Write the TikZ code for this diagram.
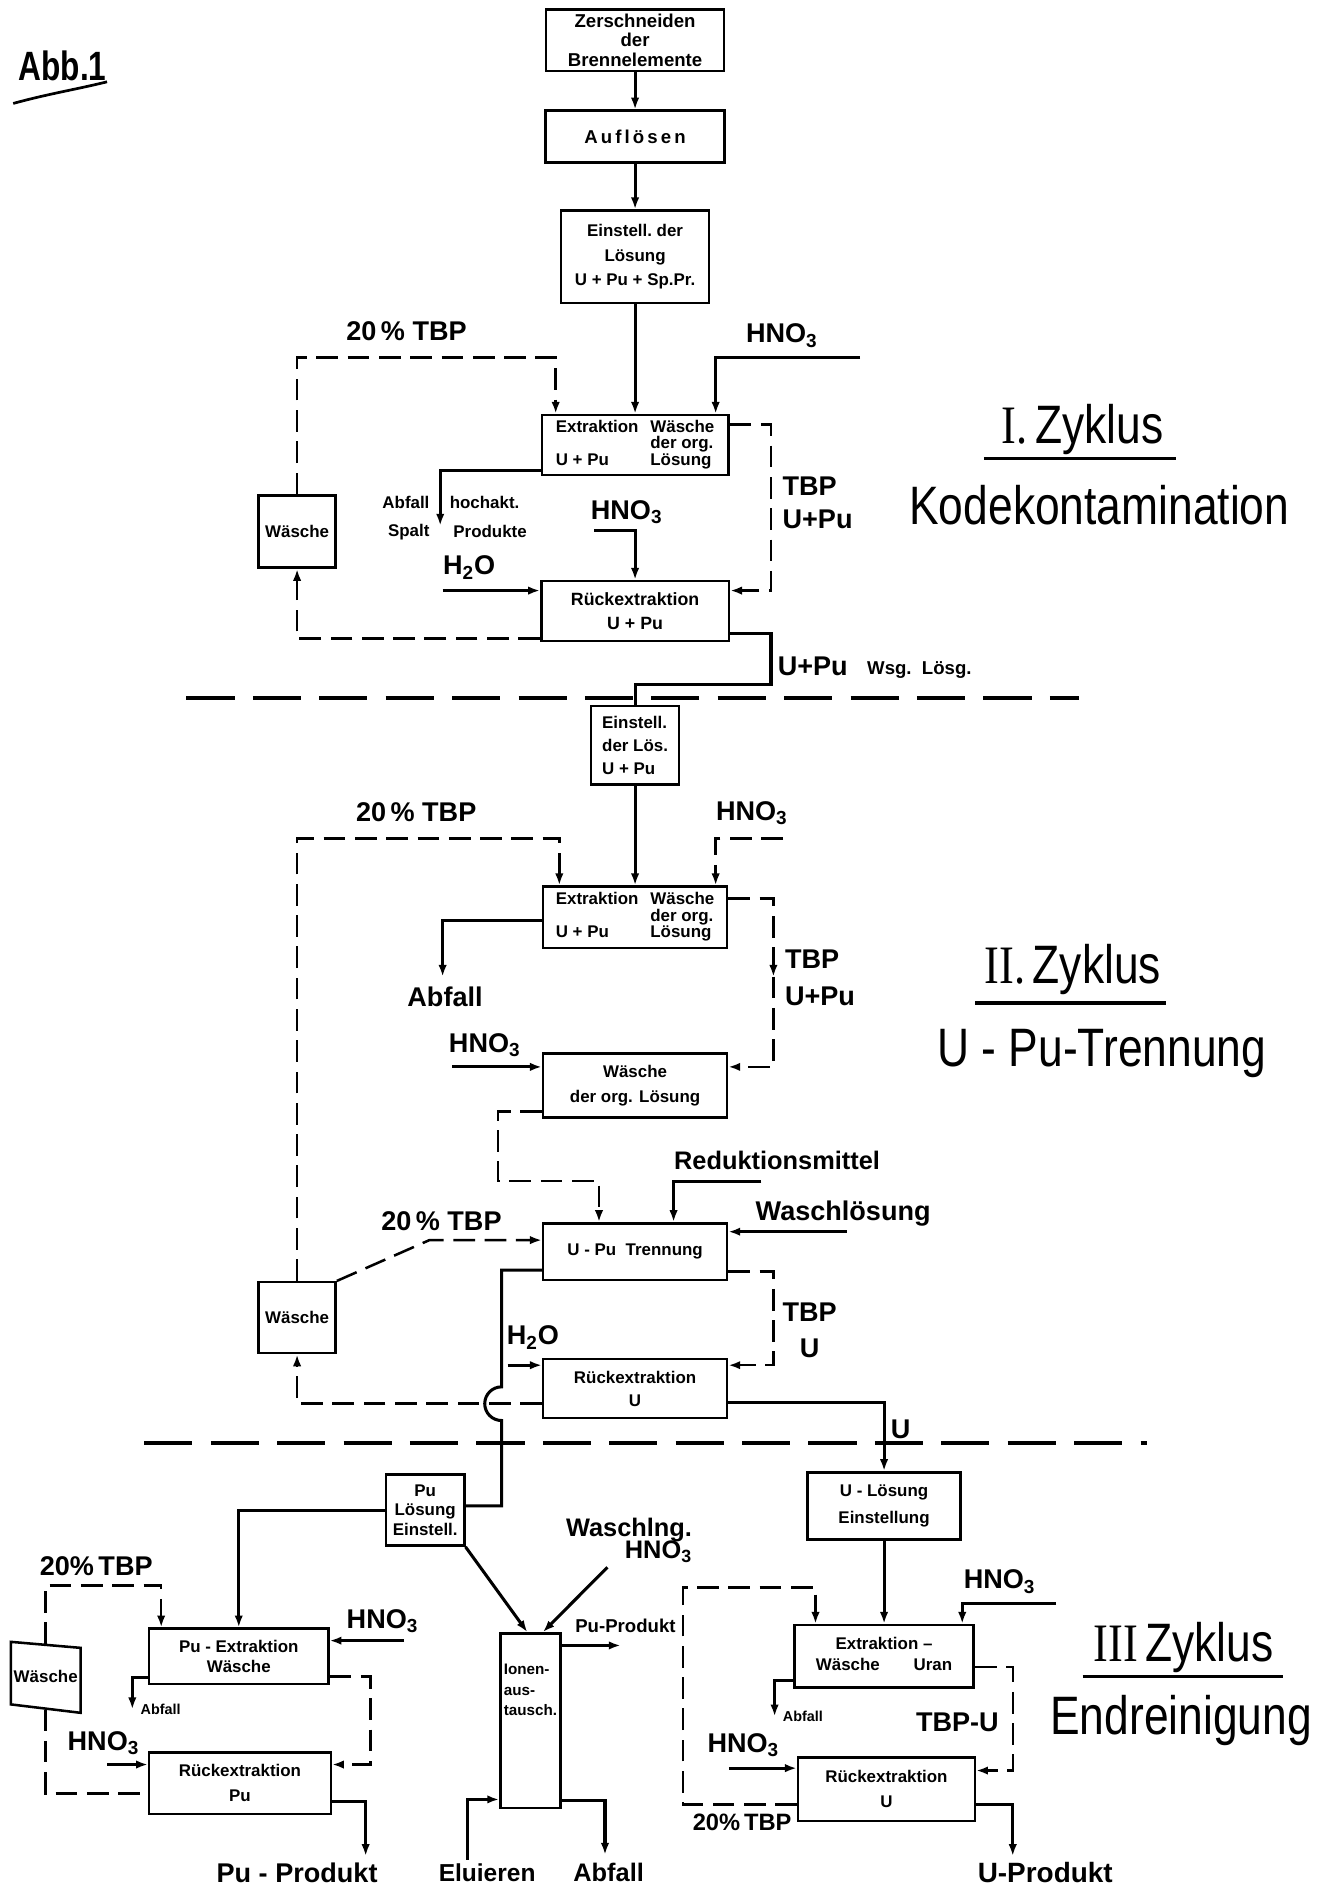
\documentclass[tikz,border=0pt]{standalone}
\usepackage{fontspec}
\setmainfont{Liberation Sans}
\newfontfamily\romfont{Liberation Serif}
\usetikzlibrary{arrows.meta}
\newcommand{\px}{0.025cm}
\newcommand{\boxfont}{\fontsize{10}{11.5}\selectfont\bfseries}
\newcommand{\feedfont}{\fontsize{16}{17}\selectfont\bfseries}
\newcommand{\smallfont}{\fontsize{10}{11}\selectfont\bfseries}
\newcommand{\tinyfont}{\fontsize{8.5}{9}\selectfont\bfseries}
\newcommand{\titlefont}{\fontsize{32}{34}\selectfont}
\newcommand{\HNO}{HNO\textsubscript{3}}
\newcommand{\HHO}{H\textsubscript{2}O}
\newcommand{\narrow}[1]{\scalebox{0.82}[1]{#1}}
\newcommand{\extwash}{%
  \begin{tabular}{@{}l@{\hspace{7pt}}l@{}}
    Extraktion & Wäsche\\[-2pt]
               & der org.\\[-2pt]
    U + Pu     & Lösung
  \end{tabular}}

\tikzset{
  box/.style={draw, line width=1.5pt, inner sep=1pt, align=center, font=\boxfont},
  feed/.style={font=\feedfont, inner sep=1pt},
  flow/.style={line width=1.8pt, -{Latex[length=7pt,width=5pt]}},
  flowline/.style={line width=1.8pt},
  recyc/.style={line width=1.5pt, dash pattern=on 0.45cm off 0.2cm, -{Latex[length=7pt,width=5pt]}},
  recycline/.style={line width=1.5pt, dash pattern=on 0.45cm off 0.2cm},
  divider/.style={line width=2.4pt, dash pattern=on 1cm off 0.38cm},
  title/.style={font=\titlefont, inner sep=0pt},
}

\begin{document}
\begin{tikzpicture}[x=0.025cm, y=-0.025cm]
  \useasboundingbox (0,0) rectangle (1110,1568);

  \node[font=\fontsize{22}{24}\selectfont\bfseries] (abb) at (52,55) {\scalebox{0.85}[1.1]{Abb.1}};
  \draw[line width=1.6pt] (11,86) .. controls (40,78) and (65,74) .. (89,68);

  % boxes, I. Zyklus
  \node[box, font=\fontsize{11}{11.5}\selectfont\bfseries, minimum width=148*\px, minimum height=51*\px] (zer) at (528,33.5) {Zerschneiden\\der\\Brennelemente};
  \node[box, font=\fontsize{11}{12}\selectfont\bfseries, minimum width=149*\px, minimum height=43*\px] (auf) at (528,113.5) {A\,u\,f\,l\,ö\,s\,e\,n};
  \node[box, minimum width=123*\px, minimum height=77*\px] (ein1) at (528,213.5) {Einstell.~der\\[3pt]Lösung\\[3pt]U + Pu + Sp.Pr.};
  \node[box, minimum width=155*\px, minimum height=50*\px] (ext1) at (528,370) {\extwash};
  \node[box, font=\fontsize{10.5}{12}\selectfont\bfseries, minimum width=156*\px, minimum height=50*\px] (rueck1) at (528,508) {Rückextraktion\\[2pt]U + Pu};
  \node[box, minimum width=64*\px, minimum height=60*\px] (wae1) at (247,442) {Wäsche};

  % boxes, II. Zyklus
  \node[box, align=left, minimum width=73*\px, minimum height=65*\px] (ein2) at (528,619.5) {Einstell.\\[2pt]der Lös.\\[2pt]U + Pu};
  \node[box, minimum width=153*\px, minimum height=51*\px] (ext2) at (528,762.5) {\extwash};
  \node[box, minimum width=153*\px, minimum height=53*\px] (wae2org) at (528,902.5) {Wäsche\\[3pt]der org. Lösung};
  \node[box, minimum width=153*\px, minimum height=47*\px] (trenn) at (528,1040.5) {U - Pu~~Trennung};
  \node[box, minimum width=153*\px, minimum height=49*\px] (rueck2) at (528,1154.5) {Rückextraktion\\[2pt]U};
  \node[box, minimum width=64*\px, minimum height=59*\px] (wae2) at (247,1095.5) {Wäsche};

  % boxes, III Zyklus
  \node[box, minimum width=65*\px, minimum height=59*\px] (pulsg) at (353.5,1255.5) {Pu\\Lösung\\Einstell.};
  \node[box, minimum width=127*\px, minimum height=56*\px] (ulsg) at (735,1252) {U - Lösung\\[4pt]Einstellung};
  \node[box, minimum width=149*\px, minimum height=46*\px] (puext) at (198.5,1377) {Pu - Extraktion\\Wäsche};
  \node[box, minimum width=151*\px, minimum height=51*\px] (puback) at (199.5,1482.5) {Rückextraktion\\[3pt]Pu};
  \node[box, minimum width=50*\px, minimum height=145*\px] (ionen) at (441,1430.5) {};
  \node[font=\fontsize{9}{10}\selectfont\bfseries, align=left, inner sep=0pt] (ionenlbl) at (441,1405) {Ionen-\\[2pt]aus-\\[2pt]tausch.};
  \node[box, minimum width=149*\px, minimum height=52*\px] (uext) at (735,1377) {\begin{tabular}{@{}l@{\hspace{20pt}}r@{}}\multicolumn{2}{c}{Extraktion --}\\[1pt] Wäsche & Uran\end{tabular}};
  \node[box, minimum width=147*\px, minimum height=53*\px] (uback) at (737,1487.5) {Rückextraktion\\[3pt]U};
  \node[font=\boxfont, minimum width=58*\px, minimum height=54*\px, inner sep=0pt] (wae3) at (38,1394) {Wäsche};
  \draw[line width=1.5pt] (9,1365) -- (67,1370) -- (67,1424) -- (9,1417) -- cycle;

  % I. Zyklus
  \draw[flow] (zer) -- (auf);
  \draw[flow] (auf) -- (ein1);
  \draw[flow] (ein1) -- (ext1);

  \node[feed] (tbp1lbl) at (338,275) {20\,\% TBP};
  \coordinate (tbp1) at (462,297);
  \draw[recyc] (wae1.north) |- (tbp1) -- (tbp1 |- ext1.north);

  \node[feed] (hno1lbl) at (650,279) {\HNO};
  \coordinate (hno1) at (715,297);
  \coordinate (hno1c) at (595,297);
  \draw[flow] (hno1) -- (hno1c) -- (hno1c |- ext1.north);

  \coordinate (tbpu1a) at (641,353);
  \coordinate (tbpu1b) at (641,491);
  \draw[recyc] (tbpu1a -| ext1.east) -- (tbpu1a) -- (tbpu1b) -- (tbpu1b -| rueck1.east);
  \node[feed, anchor=west, align=left] (tbpu1lbl) at (649,418) {TBP\\[3pt]U+Pu};

  \coordinate (abf1) at (366,391);
  \coordinate (abf1e) at (366,437);
  \draw[flow] (abf1 -| ext1.west) -| (abf1e);
  \node[font=\smallfont, anchor=east] (abf1lbl) at (362,418) {Abfall};
  \node[font=\smallfont, anchor=west] (hochlbl) at (369,418) {hochakt.};
  \node[font=\smallfont, anchor=east] (spaltlbl) at (362,442) {Spalt};
  \node[font=\smallfont, anchor=west] (prodlbl) at (372,442) {Produkte};

  \node[feed] (hno2lbl) at (521,426) {\HNO};
  \coordinate (hno2) at (494,441);
  \draw[flow] (hno2) -| (rueck1.north);

  \node[feed] (h2o1lbl) at (390,472) {\HHO};
  \coordinate (h2o1) at (368,491);
  \draw[flow] (h2o1) -- (h2o1 -| rueck1.west);

  \coordinate (ret1) at (247,531);
  \draw[recyc] (ret1 -| rueck1.west) -- (ret1) -- (wae1.south);

  \coordinate (out1a) at (641,527);
  \coordinate (out1b) at (641,569);
  \draw[flowline] (out1a -| rueck1.east) -- (out1a) -- (out1b) -| (ein2.north);
  \node[feed, anchor=west] (upu1lbl) at (645,554) {U+Pu};
  \node[font=\fontsize{11}{12}\selectfont\bfseries, anchor=west] (wsglbl) at (716,557) {Wsg.~~Lösg.};

  \node[title] (zyk1) at (900,357) {\narrow{{\romfont I.}\,Zyklus}};
  \draw[line width=2pt] (818,381) -- (978,381);
  \node[title] (kodek) at (914,420) {\narrow{Kodekontamination}};

  \coordinate (div1a) at (155,580);
  \coordinate (div1b) at (897,580);
  \draw[divider] (div1a) -- (div1b);

  % II. Zyklus
  \draw[flow] (ein2) -- (ext2);

  \node[feed] (tbp2lbl) at (346,675) {20\,\% TBP};
  \coordinate (tbp2) at (465,697);
  \draw[recyc] (wae2.north) |- (tbp2) -- (tbp2 |- ext2.north);

  \node[feed] (hno3lbl) at (625,676) {\HNO};
  \coordinate (hno3) at (651,697);
  \coordinate (hno3c) at (595,697);
  \draw[recyc] (hno3) -- (hno3c) -- (hno3c |- ext2.north);

  \coordinate (abf2) at (368,765);
  \coordinate (abf2e) at (368,812);
  \draw[flow] (abf2 -| ext2.west) -| (abf2e);
  \node[feed] (abf2lbl) at (370,829) {Abfall};

  \coordinate (tbpu2a) at (643,747);
  \coordinate (tbpu2m) at (643,812);
  \coordinate (tbpu2b) at (643,887);
  \draw[recyc] (tbpu2a -| ext2.east) -- (tbpu2a) -- (tbpu2m);
  \draw[recyc] (tbpu2m) -- (tbpu2b) -- (tbpu2b -| wae2org.east);
  \node[feed, anchor=west, align=left] (tbpu2lbl) at (651,813) {TBP\\[5pt]U+Pu};

  \node[feed] (hno4lbl) at (403,869) {\HNO};
  \coordinate (hno4) at (376,887);
  \draw[flow] (hno4) -- (hno4 -| wae2org.west);

  \coordinate (d1) at (414,924);
  \coordinate (d2) at (414,982);
  \coordinate (d3) at (498,982);
  \draw[recyc] (d1 -| wae2org.west) -- (d1) -- (d2) -- (d3) -- (d3 |- trenn.north);

  \node[feed, font=\fontsize{15}{16}\selectfont\bfseries] (redlbl) at (646,965) {Reduktionsmittel};
  \coordinate (red) at (633,982);
  \coordinate (redc) at (560,982);
  \draw[flow] (red) -- (redc) -- (redc |- trenn.north);

  \node[feed] (wllbl) at (701,1009) {Waschlösung};
  \coordinate (wl) at (704,1024);
  \draw[flow] (wl) -- (wl -| trenn.east);

  \node[feed] (tbp3lbl) at (367,1015) {20\,\% TBP};
  \coordinate (tbp3) at (357,1031);
  \draw[recyc] (wae2.north east) -- (tbp3) -- (tbp3 -| trenn.west);

  \coordinate (tbpu3a) at (643,1057);
  \coordinate (tbpu3b) at (643,1135);
  \draw[recyc] (tbpu3a -| trenn.east) -- (tbpu3a) -- (tbpu3b) -- (tbpu3b -| rueck2.east);
  \node[feed, anchor=west, align=center] (tbpu3lbl) at (649,1106) {TBP\\[4pt]U};

  \node[feed] (h2o2lbl) at (443,1112) {\HHO};
  \coordinate (h2o2) at (422,1135);
  \draw[flow] (h2o2) -- (h2o2 -| rueck2.west);

  \coordinate (ret2) at (247,1167);
  \draw[recyc] (ret2 -| rueck2.west) -- (ret2) -- (wae2.south);

  \coordinate (pu1) at (417,1056);
  \coordinate (pu2) at (417,1153);
  \coordinate (pu3) at (417,1252);
  \draw[flowline] (pu1 -| trenn.west) -- (pu1) -- (pu2) arc[start angle=270, end angle=90, radius=14] -- (pu3) -- (pu3 -| pulsg.east);

  \coordinate (u1) at (735,1166);
  \draw[flow] (u1 -| rueck2.east) -- (u1) -- (u1 |- ulsg.north);
  \node[feed, anchor=west] (u1lbl) at (739,1188) {U};

  \node[title] (zyk2) at (892,806) {\narrow{{\romfont II.}\,Zyklus}};
  \draw[line width=2pt] (811,834) -- (969,834);
  \node[title] (upu) at (916,876) {\narrow{U - Pu-Trennung}};

  \coordinate (div2a) at (120,1200);
  \coordinate (div2b) at (954,1200);
  \draw[divider] (div2a) -- (div2b);

  % III Zyklus
  \draw[flow] (pulsg.west) -| (puext.north);
  \draw[flow] (pulsg.south east) -- (ionen.92);

  \node[feed, font=\fontsize{15}{16}\selectfont\bfseries, align=right, anchor=east] (wlnglbl) at (577,1281) {Waschlng.\\[-3pt]\HNO};
  \coordinate (wlng) at (505,1303);
  \draw[flow] (wlng) -- (ionen.82);

  \node[feed] (tbp4lbl) at (80,1302) {20\%\,TBP};
  \coordinate (tbp4) at (134,1318);
  \draw[recyc] (wae3.north) |- (tbp4) -- (tbp4 |- puext.north);
  \coordinate (pw1) at (38,1491);
  \draw[recycline] (wae3.south) -- (pw1) -- (pw1 -| puback.west);

  \node[feed] (hno5lbl) at (318,1348) {\HNO};
  \coordinate (hno5) at (336,1364);
  \draw[flow] (hno5) -- (hno5 -| puext.east);

  \coordinate (abf3) at (110,1395);
  \coordinate (abf3e) at (110,1421);
  \draw[flow] (abf3 -| puext.west) -| (abf3e);
  \node[font=\tinyfont, anchor=west] (abf3lbl) at (112,1421) {Abfall};

  \coordinate (pd1) at (308,1394);
  \coordinate (pd2) at (308,1467);
  \draw[recyc] (pd1 -| puext.east) -- (pd1) -- (pd2) -- (pd2 -| puback.east);

  \node[feed] (hno6lbl) at (86,1449) {\HNO};
  \coordinate (hno6) at (89,1467);
  \draw[flow] (hno6) -- (hno6 -| puback.west);

  \coordinate (po) at (304,1498);
  \coordinate (poe) at (304,1543);
  \draw[flow] (po -| puback.east) -| (poe);
  \node[feed, font=\fontsize{16}{17}\selectfont\bfseries] (pulbl) at (247,1557) {Pu - Produkt};

  \coordinate (ipp) at (516,1368);
  \draw[flow] (ipp -| ionen.east) -- (ipp);
  \node[font=\fontsize{11}{12}\selectfont\bfseries] (ipplbl) at (520,1352) {Pu-Produkt};

  \coordinate (elu) at (389,1546);
  \coordinate (eluc) at (389,1496);
  \draw[flow] (elu) -- (eluc) -- (eluc -| ionen.west);
  \node[feed, font=\fontsize{14.5}{16}\selectfont\bfseries] (elulbl) at (405,1557) {Eluieren};

  \coordinate (iab) at (503,1497);
  \coordinate (iabe) at (503,1542);
  \draw[flow] (iab -| ionen.east) -| (iabe);
  \node[feed, font=\fontsize{15}{16}\selectfont\bfseries] (iablbl) at (506,1557) {Abfall};

  \draw[flow] (ulsg) -- (uext);

  \node[feed] (hno7lbl) at (831,1315) {\HNO};
  \coordinate (hno7) at (878,1333);
  \coordinate (hno7c) at (800,1333);
  \draw[flow] (hno7) -- (hno7c) -- (hno7c |- uext.north);

  \coordinate (tbp5a) at (568,1500);
  \coordinate (tbp5b) at (568,1320);
  \coordinate (tbp5c) at (678,1320);
  \draw[recyc] (tbp5a -| uback.west) -- (tbp5a) -- (tbp5b) -- (tbp5c) -- (tbp5c |- uext.north);
  \node[feed, font=\fontsize{14}{15}\selectfont\bfseries] (tbp5lbl) at (617,1515) {20\%\,TBP};

  \coordinate (abf4) at (644,1397);
  \coordinate (abf4e) at (644,1427);
  \draw[flow] (abf4 -| uext.west) -| (abf4e);
  \node[font=\tinyfont, anchor=west] (abf4lbl) at (646,1427) {Abfall};

  \coordinate (ud1) at (842,1386);
  \coordinate (ud2) at (842,1472);
  \draw[recyc] (ud1 -| uext.east) -- (ud1) -- (ud2) -- (ud2 -| uback.east);
  \node[feed] (udlbl) at (796,1432) {TBP-U};

  \node[feed] (hno8lbl) at (618,1451) {\HNO};
  \coordinate (hno8) at (606,1470);
  \draw[flow] (hno8) -- (hno8 -| uback.west);

  \coordinate (uo) at (842,1500);
  \coordinate (uoe) at (842,1543);
  \draw[flow] (uo -| uback.east) -| (uoe);
  \node[feed, font=\fontsize{16.5}{17}\selectfont\bfseries] (uolbl) at (869,1557) {U-Produkt};

  \node[title] (zyk3) at (984,1370) {\narrow{{\romfont III}\,Zyklus}};
  \draw[line width=2pt] (900,1394) -- (1067,1394);
  \node[title] (endr) at (982,1430) {\narrow{Endreinigung}};
\end{tikzpicture}
\end{document}
